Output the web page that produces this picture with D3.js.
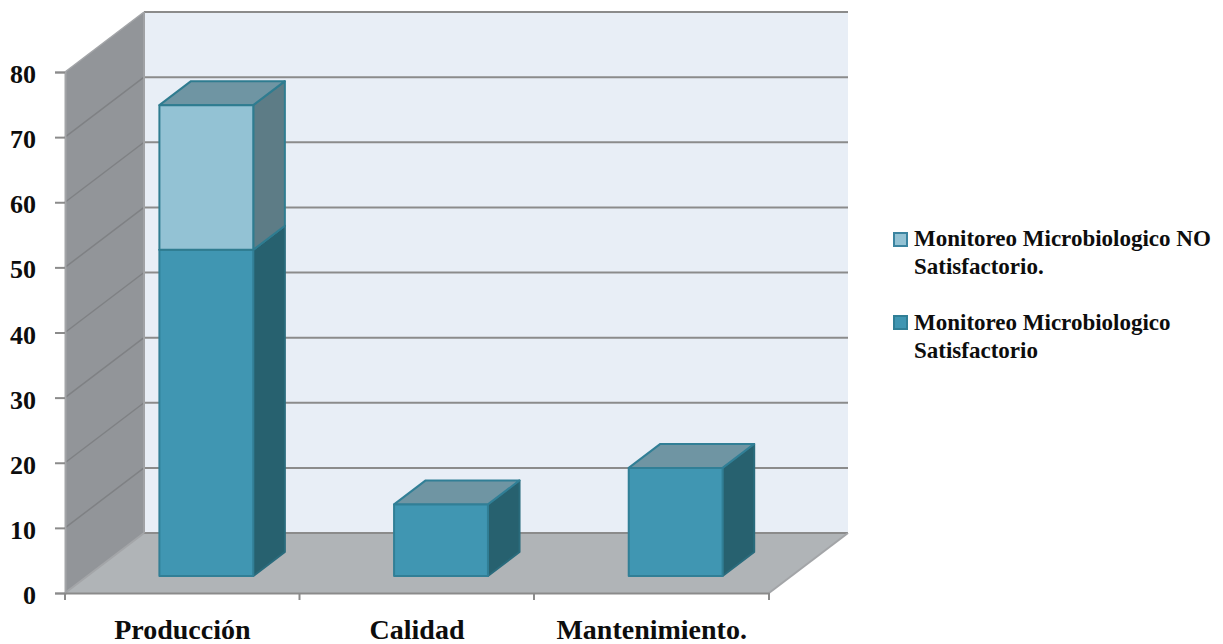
<!DOCTYPE html>
<html>
<head>
<meta charset="utf-8">
<script src="https://cdn.jsdelivr.net/npm/d3@7"></script>
<style>
  html, body { margin: 0; padding: 0; background: #fff; }
  svg { display: block; }
  text { font-family: "Liberation Serif", serif; font-weight: 700; fill: #0d0d0d; }
</style>
</head>
<body>
<svg id="chart" width="1223" height="644"></svg>
<script>
// Chart data
const categories = ["Producción", "Calidad", "Mantenimiento."];
const satisfactorio = [50.1, 11, 16.6];
const noSatisfactorio = [22.2, 0, 0];
const yTicks = [0, 10, 20, 30, 40, 50, 60, 70, 80];
const legendLines = [
  ["Monitoreo Microbiologico NO", "Satisfactorio."],
  ["Monitoreo Microbiologico", "Satisfactorio"]
];

const svg = d3.select("#chart");

// Front plane scales
const x = d3.scaleBand().domain(categories).range([65, 769]);
const y = d3.scaleLinear().domain([0, 80]).range([593, 72]);

// Oblique projection: depth 1 reaches the back wall
const depthX = 79, depthY = 60;
const px = (xPix, d) => xPix + d * depthX;
const py = (v, d) => y(v) - d * depthY;
const line = d3.line();

const grid = "#8b8b8b";

// Floor, side wall and back wall
svg.append("path")
  .attr("d", line([[px(65, 0), py(80, 0)], [px(65, 1), py(80, 1)], [px(65, 1), py(0, 1)], [px(65, 0), py(0, 0)]]) + "Z")
  .attr("fill", "#929599");
svg.append("path")
  .attr("d", line([[px(65, 1), py(80, 1)], [px(769, 1), py(80, 1)], [px(769, 1), py(0, 1)], [px(65, 1), py(0, 1)]]) + "Z")
  .attr("fill", "#e8eef6");
svg.append("path")
  .attr("d", line([[px(65, 0), py(0, 0)], [px(65, 1), py(0, 1)], [px(769, 1), py(0, 1)], [px(769, 0), py(0, 0)]]) + "Z")
  .attr("fill", "#b0b4b7");

// Gridlines across both walls
yTicks.forEach(t => {
  svg.append("line")
    .attr("x1", px(65, 1)).attr("x2", px(769, 1))
    .attr("y1", py(t, 1)).attr("y2", py(t, 1))
    .attr("stroke", grid).attr("stroke-width", 2);
  svg.append("line")
    .attr("x1", px(65, 0)).attr("x2", px(65, 1))
    .attr("y1", py(t, 0)).attr("y2", py(t, 1))
    .attr("stroke", t === 0 || t === 80 ? "#a3a5a8" : "#7f8184").attr("stroke-width", t === 0 ? 2 : 1.5);
});
// Wall corner and floor edge
svg.append("line")
  .attr("x1", px(65, 1)).attr("x2", px(65, 1)).attr("y1", py(80, 1)).attr("y2", py(0, 1))
  .attr("stroke", "#a0a2a5").attr("stroke-width", 2);
svg.append("line")
  .attr("x1", px(769, 0)).attr("x2", px(769, 1)).attr("y1", py(0, 0)).attr("y2", py(0, 1))
  .attr("stroke", "#a3a5a8").attr("stroke-width", 2);

// Stacked 3D bars
const barFrontDepth = 0.283, barDepth = 0.4;
const barWidth = x.bandwidth() * 0.4;
const barLeft = c => x(c) + x.bandwidth() / 2 - barWidth / 2 + 24 - barFrontDepth * depthX;

function drawBlock(c, v0, v1, faces) {
  const xl = px(barLeft(c), barFrontDepth), xr = xl + barWidth;
  const yb = py(v0, barFrontDepth), yt = py(v1, barFrontDepth);
  const dx = barDepth * depthX, dy = barDepth * depthY;
  const g = svg.append("g")
    .attr("stroke-width", 2).attr("stroke-linejoin", "round");
  g.append("path")
    .attr("d", line([[xr, yb], [xr + dx, yb - dy], [xr + dx, yt - dy], [xr, yt]]) + "Z")
    .attr("fill", faces.side).attr("stroke", faces.sideEdge);
  g.append("path")
    .attr("d", line([[xl, yt], [xl + dx, yt - dy], [xr + dx, yt - dy], [xr, yt]]) + "Z")
    .attr("fill", faces.top).attr("stroke", faces.edge);
  g.append("rect")
    .attr("x", xl).attr("y", yt).attr("width", barWidth).attr("height", yb - yt)
    .attr("fill", faces.front).attr("stroke", faces.edge);
}

const lowerFaces = { front: "#4096b2", side: "#27616f", sideEdge: "#2a6b7c", top: "#6f95a3", edge: "#317f96" };
const upperFaces = { front: "#93c2d4", side: "#5d7c86", sideEdge: "#2f7c90", top: "#6f95a3", edge: "#2f7c90" };

categories.forEach((c, i) => {
  drawBlock(c, 0, satisfactorio[i], lowerFaces);
  if (noSatisfactorio[i] > 0) {
    drawBlock(c, satisfactorio[i], satisfactorio[i] + noSatisfactorio[i], upperFaces);
  }
});

// Axes
const yAxis = svg.append("g")
  .attr("transform", "translate(65,0)")
  .call(d3.axisLeft(y).tickValues(yTicks).tickSize(10).tickPadding(19).tickFormat(d3.format("d")));
const xAxis = svg.append("g")
  .attr("transform", "translate(0,593)")
  .call(d3.axisBottom(x).tickValues([]).tickSize(0).tickPadding(0));

[yAxis, xAxis].forEach(a => a.select(".domain").attr("stroke", grid).attr("stroke-width", 2));
yAxis.select(".domain").attr("stroke", "#a3a5a8");
yAxis.selectAll(".tick line").attr("stroke", grid).attr("stroke-width", 2);
yAxis.selectAll(".tick text")
  .attr("font-size", 26).attr("dy", 0).attr("y", 10.5)
  .style("font-family", '"Liberation Serif", serif').style("font-weight", 700).attr("fill", "#0d0d0d");

// Category boundaries along the front edge
[65, 299.5, 534, 769].forEach(tx => {
  svg.append("line").attr("x1", tx).attr("x2", tx).attr("y1", 593).attr("y2", 600)
    .attr("stroke", grid).attr("stroke-width", 2);
});

// Category labels
categories.forEach(c => {
  svg.append("text")
    .attr("x", x(c) + x.bandwidth() / 2)
    .attr("y", 639)
    .attr("text-anchor", "middle")
    .attr("font-size", 28)
    .text(c);
});

// Legend
const legendColors = [
  { fill: "#93c2d4", stroke: "#3b84a0" },
  { fill: "#4096b2", stroke: "#317f96" }
];
const legendSwatchY = [233, 316];
const legendBase = [[246, 274], [330, 358]];
legendLines.forEach((lines, i) => {
  svg.append("rect")
    .attr("x", 894).attr("y", legendSwatchY[i]).attr("width", 13).attr("height", 13)
    .attr("fill", legendColors[i].fill).attr("stroke", legendColors[i].stroke).attr("stroke-width", 2);
  lines.forEach((t, j) => {
    svg.append("text")
      .attr("x", 914).attr("y", legendBase[i][j])
      .attr("font-size", 23)
      .text(t);
  });
});
</script>
</body>
</html>
